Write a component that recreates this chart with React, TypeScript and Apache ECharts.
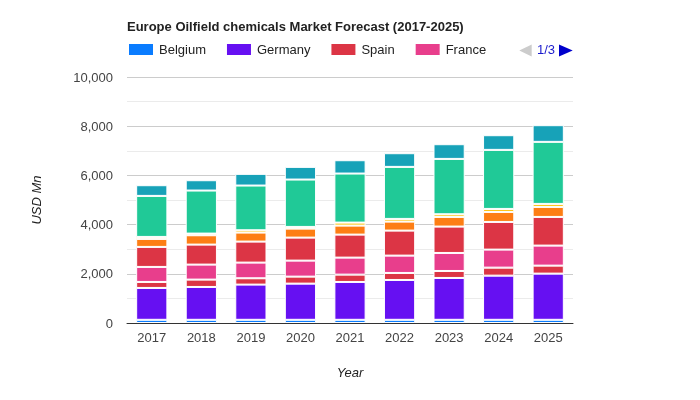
import React, { useEffect, useRef } from "react";
import * as echarts from "echarts";

const years = ["2017", "2018", "2019", "2020", "2021", "2022", "2023", "2024", "2025"];
const seriesNames = ["Belgium", "Germany", "Spain", "France", "Italy", "Netherlands", "UK", "Norway", "Rest of Europe"];
const seriesColors = ["#0a7cff", "#6610f2", "#dc3545", "#e83e8c", "#dc3545", "#fd7e14", "#ffc107", "#20c997", "#17a2b8"];
const legendPageNames = ["Belgium", "Germany", "Spain", "France"];
const legendPageText = "1/3";

const belgium = [130, 130, 130, 130, 130, 130, 130, 130, 130];
const germany = [1295, 1335, 1430, 1470, 1538, 1619, 1701, 1795, 1877];
const spain = [244, 299, 258, 285, 298, 285, 284, 326, 325];
const france = [610, 610, 637, 651, 692, 705, 732, 732, 814];
const italy = [814, 813, 854, 935, 935, 1017, 1072, 1125, 1166];
const netherlands = [325, 380, 367, 366, 366, 366, 393, 407, 407];
const uk = [81, 68, 94, 68, 122, 109, 108, 122, 122];
const norway = [1668, 1749, 1817, 1926, 1994, 2115, 2251, 2400, 2522];
const restOfEurope = [434, 420, 475, 515, 542, 556, 597, 597, 678];

const seriesValues = [belgium, germany, spain, france, italy, netherlands, uk, norway, restOfEurope];

export default function App() {
  const ref = useRef<HTMLDivElement>(null);
  useEffect(() => {
    if (!ref.current) return;
    const chart = echarts.init(ref.current, undefined, { renderer: "svg" });
    const font = "Arial, 'Liberation Sans', sans-serif";
    chart.setOption({
      animation: false,
      textStyle: { fontFamily: font },
      title: {
        text: "Europe Oilfield chemicals Market Forecast (2017-2025)",
        left: 122,
        top: 15,
        textStyle: { fontSize: 13, fontWeight: "bold", color: "#222", fontFamily: font },
      },
      legend: {
        left: 122,
        top: 37,
        itemWidth: 26,
        itemHeight: 13,
        itemGap: 19,
        icon: "rect",
        data: legendPageNames,
        textStyle: { fontSize: 13, color: "#222", fontFamily: font },
      },
      graphic: [
        {
          type: "polygon",
          shape: { points: [[531.7, 44.5], [531.7, 56.5], [519.3, 50.5]] },
          style: { fill: "#cccccc" },
        },
        {
          type: "text",
          left: 537,
          top: 43,
          style: { text: legendPageText, fill: "#1a1acc", font: `13px ${font}` },
        },
        {
          type: "polygon",
          shape: { points: [[559, 44.5], [559, 56.5], [572.7, 50.5]] },
          style: { fill: "#0000cc" },
        },
      ],
      grid: { left: 127, right: 127, top: 77, bottom: 77 },
      xAxis: {
        type: "category",
        data: years,
        name: "Year",
        nameLocation: "middle",
        nameGap: 43,
        nameTextStyle: { fontStyle: "italic", fontSize: 13, color: "#222", fontFamily: font },
        axisLine: { show: true, lineStyle: { color: "#333", width: 1 } },
        axisTick: { show: false },
        axisLabel: { fontSize: 13, color: "#444", margin: 8, fontFamily: font },
      },
      yAxis: {
        type: "value",
        min: 0,
        max: 10000,
        interval: 2000,
        name: "USD Mn",
        nameLocation: "middle",
        nameGap: 84,
        nameTextStyle: { fontStyle: "italic", fontSize: 13, color: "#222", fontFamily: font },
        axisLine: { show: false },
        axisTick: { show: false },
        axisLabel: {
          fontSize: 13,
          color: "#444",
          margin: 14,
          fontFamily: font,
          formatter: (v: number) => v.toLocaleString("en-US"),
        },
        splitLine: { show: true, lineStyle: { color: "#cccccc" } },
        minorTick: { show: false, splitNumber: 2 },
        minorSplitLine: { show: true, lineStyle: { color: "#ebebeb" } },
      },
      series: seriesNames.map((name, i) => ({
        name,
        type: "bar",
        stack: "total",
        data: seriesValues[i],
        barWidth: "63%",
        itemStyle: { color: seriesColors[i], borderColor: "#ffffff", borderWidth: 1 },
      })),
    });
    return () => chart.dispose();
  }, []);
  return <div ref={ref} style={{ position: "fixed", left: 0, top: 0, width: 700, height: 400 }} />;
}
